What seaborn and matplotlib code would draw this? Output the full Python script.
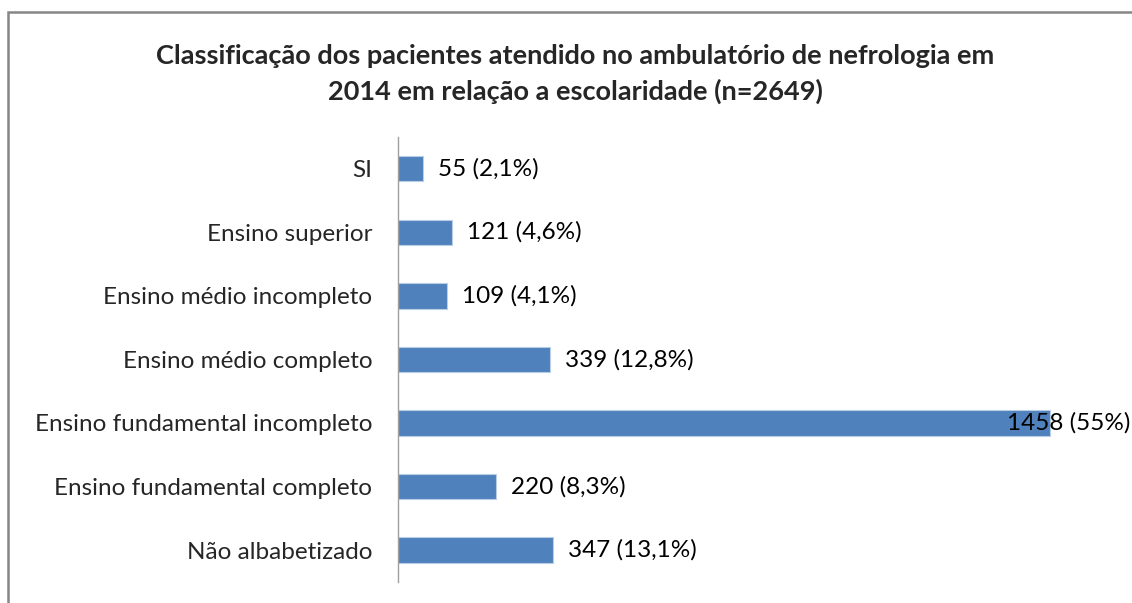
import matplotlib.pyplot as plt
import matplotlib.transforms as mtransforms
import seaborn as sns
import pandas as pd

categorias = ["SI", "Ensino superior", "Ensino médio incompleto", "Ensino médio completo",
              "Ensino fundamental incompleto", "Ensino fundamental completo", "Não albabetizado"]
valores = [55, 121, 109, 339, 1458, 220, 347]
rotulos = ["55 (2,1%)", "121 (4,6%)", "109 (4,1%)", "339 (12,8%)",
           "1458 (55%)", "220 (8,3%)", "347 (13,1%)"]

df = pd.DataFrame({"categoria": categorias, "valor": valores})

sns.set_style("white")
plt.rcParams["font.family"] = ["Lato", "DejaVu Sans"]

fig = plt.figure(figsize=(11.32, 6.03), dpi=100)
ax = fig.add_axes([0.3516, 0.035, 0.632, 0.738])

sns.barplot(data=df, x="valor", y="categoria", color="#4F81BD", width=0.4,
            edgecolor="#B9CDE5", linewidth=0.8, saturation=1, ax=ax)

ax.set_xlim(0, 1600)
ax.set_ylim(6.5, -0.5)
ax.set_xlabel("")
ax.set_ylabel("")
ax.set_xticks([])
ax.tick_params(axis="y", length=0, pad=18.5, labelsize=17.5)
for side in ["top", "right", "bottom"]:
    ax.spines[side].set_visible(False)
ax.spines["left"].set_color("#A0A0A0")
ax.spines["left"].set_linewidth(1)

# rótulos de dados
blend = mtransforms.blended_transform_factory(ax.transAxes, ax.transData)
for i, (v, txt) in enumerate(zip(valores, rotulos)):
    if v > 0.85 * ax.get_xlim()[1]:
        ax.annotate(txt, xy=(1, i), xycoords=blend, xytext=(17, 0), textcoords="offset pixels",
                    ha="right", va="center", fontsize=17.5, color="#000000", annotation_clip=False)
    else:
        ax.annotate(txt, xy=(v, i), xytext=(15, 0), textcoords="offset pixels",
                    ha="left", va="center", fontsize=17.5, color="#000000")

fig.text(0.508, 0.877, "Classificação dos pacientes atendido no ambulatório de nefrologia em\n"
         "2014 em relação a escolaridade (n=2649)",
         ha="center", va="center", fontsize=19.5, fontweight="bold", linespacing=1.5)

# moldura do gráfico
moldura = plt.Rectangle((8 / 1132, -0.05), 1.2, 1.05 - 12 / 603, transform=fig.transFigure,
                        fill=False, edgecolor="#868686", linewidth=1.8, clip_on=False)
fig.patches.append(moldura)

fig.savefig("out.png", dpi=100, facecolor="white")
